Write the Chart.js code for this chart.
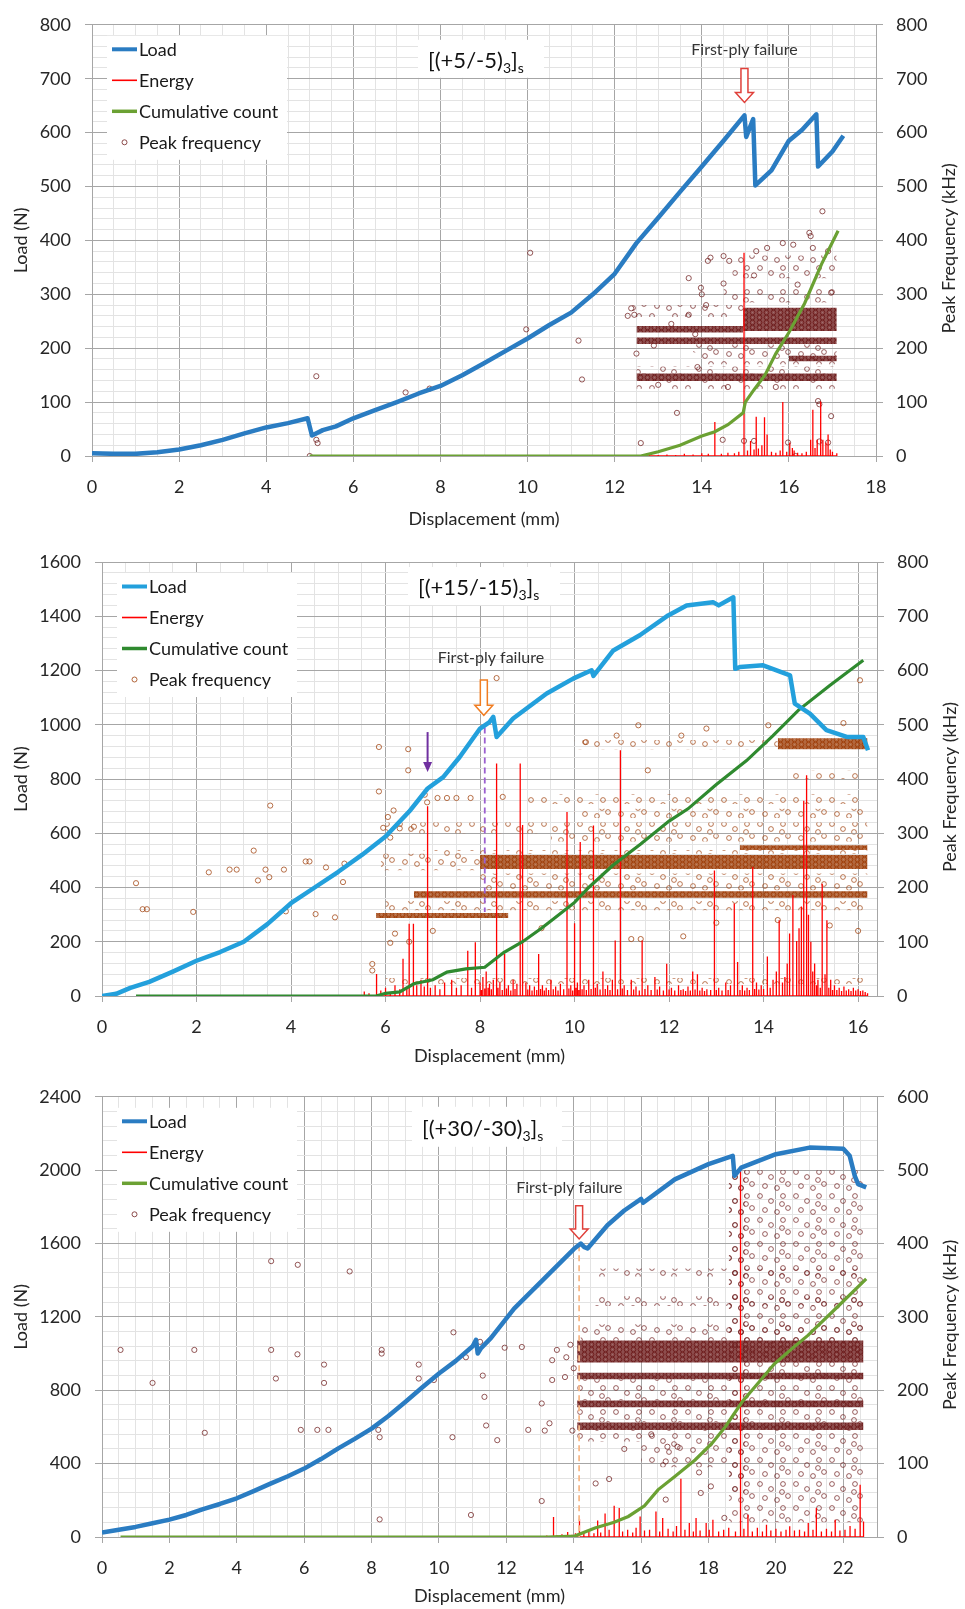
<!DOCTYPE html>
<html>
<head>
<meta charset="utf-8">
<script src="https://cdn.jsdelivr.net/npm/chart.js@4.4.1/dist/chart.umd.min.js"></script>
<style>
  body { margin: 0; background: #fff; width: 965px; height: 1609px; overflow: hidden; }
  canvas { position: absolute; left: 0; }
</style>
</head>
<body>
<canvas id="c1" width="965" height="532" style="top:0"></canvas>
<canvas id="c2" width="965" height="540" style="top:532px"></canvas>
<canvas id="c3" width="965" height="537" style="top:1072px"></canvas>
<script>
// ---- panel 1 : [(+5/-5)3]s ----
const title1 = ['[(+5/-5)', '3', ']', 's'];
const load1 = [[0,5],[0.5,4],[1,4],[1.5,7],[2,12],[2.5,20],[3,30],[3.5,42],[4,53],[4.5,61],[4.95,70],[5.05,38],[5.3,48],[5.6,55],[6,70],[6.5,85],[7,100],[7.5,116],[8,130],[8.5,150],[9,172],[9.5,195],[10,218],[10.5,243],[11,266],[11.5,300],[12,338],[12.5,395],[13,442],[13.5,490],[14,537],[14.5,585],[14.98,632],[15.02,592],[15.18,625],[15.23,502],[15.6,530],[16,585],[16.3,605],[16.63,634],[16.67,537],[17,565],[17.25,594]];
const cum1 = [[5.0,0],[12.6,0],[13.0,8],[13.5,20],[14.0,37],[14.3,45],[14.6,58],[14.95,80],[15.0,100],[15.2,123],[15.45,150],[15.7,190],[16.0,229],[16.36,283],[16.75,356],[17.13,418]];
const energy1 = [[12.6,2],[12.8,3],[13.0,2],[13.2,3],[13.4,2],[13.6,4],[13.8,3],[14.0,5],[14.15,4],[14.3,63],[14.45,4],[14.6,6],[14.75,5],[14.85,8],[14.97,377],[15.05,10],[15.12,28],[15.2,12],[15.25,73],[15.3,14],[15.38,20],[15.44,72],[15.5,40],[15.6,8],[15.7,6],[15.8,10],[15.86,100],[15.95,8],[16.02,25],[16.08,15],[16.12,10],[16.2,6],[16.3,5],[16.4,8],[16.5,30],[16.55,86],[16.6,15],[16.65,30],[16.73,101],[16.78,30],[16.85,25],[16.9,40],[16.95,12],[17.0,8],[17.1,5]];
const peakDense1 = [[12.5,14.95,229,241],[12.5,17.1,208,220],[12.5,17.1,139,153],[14.95,17.1,232,275],[16.0,17.1,176,186]];
const peakSparse1 = [[12.4,14.95,258,280],[14.0,17.1,170,192],[14.5,17.1,285,312],[14.7,17.1,330,372],[12.5,17.1,125,139],[12.5,17.1,153,166],[13.8,17.1,192,207]];
const peakPoints1 = [[5.0,0],[5.15,148],[5.15,30],[5.18,24],[7.2,118],[7.75,125],[9.97,235],[10.06,377],[11.17,214],[11.25,142],[12.38,274],[12.45,262],[12.6,24],[13.43,80],[13.98,312],[14.14,362],[14.2,368],[14.5,371],[14.63,362],[14.48,30],[14.97,28],[15.2,28],[15.98,25],[16.15,0],[16.67,102],[16.7,96],[16.97,74],[16.7,27],[16.9,25],[16.97,303],[15.86,395],[16.1,392],[16.77,454],[16.47,414],[16.5,408],[15.25,380],[15.5,386],[16.55,386],[16.9,380],[13.7,330],[14.0,300],[12.3,260],[12.9,205],[13.3,245],[13.7,262],[13.85,226],[14.1,280],[14.5,320],[15.2,335],[16.2,318],[12.5,190],[13.9,165],[13.0,132],[14.6,128],[15.7,128]];
const notes1 = [{text: 'First-ply failure', x: 14.98, y: 753}];
const arrows1 = [{x: 14.98, from: 719, to: 656, kind: 'hollow', color: '#e0403a'}];

// ---- panel 2 : [(+15/-15)3]s ----
const title2 = ['[(+15/-15)', '3', ']', 's'];
const load2 = [[0,0],[0.3,8],[0.6,30],[1,52],[1.5,90],[2,130],[2.5,162],[3,200],[3.5,265],[4,342],[4.5,400],[5,458],[5.5,520],[6,588],[6.5,680],[6.89,765],[7.22,807],[7.57,881],[8.0,986],[8.2,1010],[8.28,1029],[8.35,955],[8.7,1023],[9.41,1115],[9.97,1170],[10.36,1201],[10.4,1180],[10.82,1274],[11.38,1330],[11.98,1403],[12.37,1440],[12.93,1452],[13.05,1440],[13.36,1470],[13.4,1206],[13.5,1213],[13.99,1219],[14.56,1182],[14.66,1078],[14.98,1041],[15.33,980],[15.76,955],[16.11,955],[16.21,906]];
const cum2 = [[0.72,0],[5.8,0],[6.0,10],[6.3,15],[6.6,45],[7.0,60],[7.3,88],[7.7,100],[8.1,106],[8.5,160],[8.9,200],[9.3,250],[9.6,290],[10.0,345],[10.3,400],[10.8,480],[11.4,560],[12.0,645],[12.4,690],[13.0,780],[13.64,868],[14.2,960],[14.74,1054],[15.4,1145],[16.11,1238]];
const energy2 = [[5.55,17],[5.65,10],[5.81,81],[5.9,20],[6.0,30],[6.1,15],[6.2,40],[6.3,25],[6.37,137],[6.45,30],[6.5,266],[6.59,266],[6.66,40],[6.75,60],[6.82,35],[6.89,700],[6.95,30],[7.05,40],[7.15,25],[7.25,50],[7.4,60],[7.5,30],[7.6,40],[7.74,167],[7.82,30],[7.9,198],[8.0,50],[8.03,22],[8.06,70],[8.1,28],[8.13,90],[8.17,30],[8.2,45],[8.24,25],[8.28,60],[8.35,857],[8.38,30],[8.42,50],[8.47,22],[8.52,155],[8.56,28],[8.6,40],[8.65,20],[8.7,60],[8.74,26],[8.78,45],[8.85,857],[8.9,630],[8.97,50],[9.01,24],[9.05,40],[9.1,20],[9.15,35],[9.2,22],[9.24,155],[9.28,26],[9.32,40],[9.36,20],[9.4,30],[9.45,22],[9.5,60],[9.55,25],[9.6,35],[9.65,20],[9.7,45],[9.77,25],[9.84,678],[9.88,28],[9.92,40],[9.96,20],[10.0,268],[10.03,30],[10.06,50],[10.09,22],[10.12,568],[10.16,25],[10.2,40],[10.25,22],[10.3,60],[10.35,26],[10.4,629],[10.44,30],[10.48,45],[10.54,24],[10.6,90],[10.65,26],[10.7,40],[10.75,22],[10.8,60],[10.86,205],[10.91,25],[10.97,906],[11.01,28],[11.05,40],[11.12,22],[11.2,60],[11.25,24],[11.3,35],[11.37,20],[11.43,205],[11.49,26],[11.55,40],[11.62,22],[11.7,70],[11.75,24],[11.8,35],[11.88,20],[11.95,119],[12.0,24],[12.05,30],[12.12,20],[12.2,40],[12.25,22],[12.3,25],[12.35,18],[12.4,35],[12.45,20],[12.5,90],[12.55,24],[12.6,80],[12.65,20],[12.7,30],[12.75,18],[12.8,25],[12.88,22],[12.96,463],[13.0,22],[13.05,30],[13.12,20],[13.2,50],[13.25,22],[13.3,40],[13.38,341],[13.45,125],[13.5,22],[13.55,40],[13.6,20],[13.65,30],[13.7,22],[13.77,476],[13.81,26],[13.85,50],[13.9,24],[13.95,40],[14.0,26],[14.08,146],[14.14,30],[14.2,60],[14.27,90],[14.33,279],[14.4,50],[14.45,70],[14.5,120],[14.55,230],[14.62,372],[14.7,203],[14.75,250],[14.8,330],[14.85,720],[14.91,814],[14.95,300],[15.0,200],[15.04,90],[15.08,120],[15.12,40],[15.15,60],[15.2,30],[15.24,414],[15.3,80],[15.34,279],[15.38,30],[15.42,60],[15.46,22],[15.5,40],[15.55,22],[15.6,30],[15.65,18],[15.7,35],[15.75,20],[15.8,25],[15.85,18],[15.9,30],[15.95,20],[16.0,25],[16.05,18],[16.1,20],[16.15,15],[16.2,10]];
const peakDense2 = [[8.0,16.2,234,260],[6.6,16.2,181,193],[14.3,16.2,455,475],[5.8,8.6,144,153],[13.5,16.2,269,278]];
const peakSparse2 = [[5.9,8.0,232,262],[8.0,16.2,207,226],[8.0,16.2,195,207],[6.0,16.2,300,320],[9.5,16.2,285,298],[9.0,16.1,354,372],[10.0,14.3,455,472],[14.5,16.1,400,415],[6.0,16.2,22,33],[6.0,16.2,158,175],[10.0,16.2,328,345],[6.8,16.2,262,269]];
const peakPoints2 = [[0.72,208],[0.86,160],[0.95,160],[1.93,155],[2.26,228],[2.7,233],[2.85,233],[3.21,268],[3.3,213],[3.46,233],[3.54,219],[3.56,351],[3.85,233],[3.89,156],[4.31,248],[4.39,248],[4.52,151],[4.74,237],[4.93,145],[5.1,210],[5.13,244],[5.86,459],[6.48,455],[6.48,416],[5.86,377],[5.72,59],[5.72,47],[6.83,371],[6.88,357],[7.1,365],[7.3,365],[7.5,365],[7.8,365],[8.48,367],[8.35,586],[10.24,468],[10.89,480],[11.35,499],[12.79,493],[11.55,416],[16.04,582],[15.69,503],[14.1,499],[12.26,480],[6.1,98],[6.2,115],[6.5,100],[7.0,120],[6.3,309],[6.6,312],[6.17,342],[9.3,125],[11.2,105],[11.4,105],[12.3,110],[13.0,135],[14.3,140],[15.4,130],[16.0,120],[6.1,292],[5.95,310],[6.05,330]];
const notes2 = [{text: 'First-ply failure', x: 8.23, y: 1245}];
const arrows2 = [
  {x: 8.08, from: 1165, to: 1035, kind: 'hollow', color: '#f07d22'},
  {x: 6.89, from: 973, to: 826, kind: 'solid', color: '#7030a0'}
];
const guide2 = [[8.1, 990], [8.1, 310]];

// ---- panel 3 : [(+30/-30)3]s ----
const title3 = ['[(+30/-30)', '3', ']', 's'];
const load3 = [[0,25],[0.5,40],[1,55],[1.5,75],[2,95],[2.5,120],[3,152],[3.5,180],[4,211],[4.5,250],[5,291],[5.5,330],[6,373],[6.5,425],[7,482],[7.5,535],[8,591],[8.5,660],[9,736],[9.5,815],[10,891],[10.5,960],[11.0,1040],[11.1,1075],[11.15,1000],[11.25,1030],[11.54,1084],[12.23,1245],[13.22,1426],[14.01,1571],[14.21,1600],[14.3,1582],[14.41,1573],[15.0,1700],[15.5,1780],[16.0,1843],[16.06,1822],[17.0,1950],[18.0,2033],[18.72,2078],[18.77,1969],[18.97,2014],[20.0,2087],[21.0,2123],[22.0,2117],[22.19,2078],[22.34,1969],[22.44,1924],[22.68,1906]];
const cum3 = [[0.55,0],[13.2,0],[14.03,5],[14.63,49],[15.2,80],[15.62,112],[16.1,170],[16.5,257],[17.0,330],[17.6,420],[18.1,510],[18.5,601],[19.0,737],[19.5,845],[19.96,945],[20.5,1030],[20.95,1099],[21.8,1250],[22.68,1407]];
const energy3 = [[13.2,8],[13.4,109],[13.5,10],[13.65,15],[13.82,27],[13.95,12],[14.05,20],[14.17,100],[14.3,25],[14.45,30],[14.6,20],[14.71,90],[14.8,25],[14.93,128],[15.05,40],[15.2,170],[15.35,158],[15.45,30],[15.6,40],[15.75,25],[15.85,50],[15.97,112],[16.1,35],[16.25,40],[16.44,139],[16.55,30],[16.64,103],[16.8,45],[16.95,30],[17.05,60],[17.18,318],[17.3,40],[17.43,76],[17.55,30],[17.63,103],[17.75,35],[17.93,76],[18.02,40],[18.13,94],[18.3,30],[18.45,40],[18.6,50],[18.8,30],[18.95,1996],[19.05,45],[19.17,121],[19.3,30],[19.45,50],[19.6,30],[19.72,67],[19.85,35],[20.0,45],[20.15,30],[20.3,40],[20.41,58],[20.55,35],[20.7,40],[20.85,30],[20.96,76],[21.1,40],[21.2,158],[21.35,30],[21.5,45],[21.65,30],[21.76,94],[21.9,35],[22.05,40],[22.2,60],[22.35,45],[22.5,285],[22.6,85]];
const peakDense3 = [[14.1,22.6,238,268],[14.1,22.6,215,224],[14.1,22.6,177,186],[14.1,22.6,146,156]];
const peakSparse3 = [[18.6,22.6,20,500],[18.6,19.1,60,500],[14.1,18.6,186,215],[14.1,18.6,156,177],[14.2,22.6,268,290],[14.6,22.6,315,328],[14.6,22.6,355,366],[14.1,18.6,130,146],[16.0,18.6,95,130]];
const peakPoints3 = [[0.55,255],[1.5,210],[2.74,255],[3.05,142],[5.02,255],[5.02,376],[5.16,216],[5.8,249],[5.81,371],[5.9,146],[6.39,146],[6.59,235],[6.59,210],[6.72,146],[7.35,362],[8.2,146],[8.24,136],[8.24,24],[8.3,255],[8.3,250],[9.4,235],[9.4,216],[9.85,214],[10.4,136],[10.43,279],[10.8,245],[10.95,30],[11.22,266],[11.3,220],[11.35,191],[11.4,152],[11.73,132],[11.95,258],[12.46,259],[12.65,146],[13.05,182],[13.05,49],[13.14,145],[13.28,155],[13.36,214],[13.36,241],[13.5,255],[13.74,218],[13.78,245],[13.96,145],[13.9,262],[14.0,230],[14.65,73],[15.05,79],[16.73,103],[16.73,51],[16.78,123],[17.08,123],[17.72,88],[17.77,60],[18.47,26],[18.07,69],[15.5,120],[16.3,140]];
const notes3 = [{text: 'First-ply failure', x: 13.87, y: 1906}];
const arrows3 = [{x: 14.16, from: 1806, to: 1625, kind: 'hollow', color: '#e0403a'}];
const guide3 = [[14.16, 1590], [14.16, 0]];

const legendNames = ['Load', 'Energy', 'Cumulative count', 'Peak frequency'];

// ---- look ----
const FONT = 'Lato, "Open Sans", sans-serif';
const TXT = '#262626';
const GRID_MAJOR = '#a6a6a6';
const GRID_MINOR = '#e3e3e3';
const W = 965;

const panels = [
  { id: 'c1', height: 532, area: {top: 15, bottom: 456, left: 92, right: 876}, xAxisH: 74,
    xMax: 18, yMax: 800, yMajor: 100, yMinor: 20, yRMax: 800,
    title: title1, titleAt: [336, 35], titleBox: [326, 15, 126, 38],
    load: load1, cum: cum1, energy: energy1, dense: peakDense1, sparse: peakSparse1, points: peakPoints1,
    notes: notes1, arrows: arrows1, guide: null, guideColor: null,
    loadColor: '#2a7cc2', cumColor: '#6ba133', peakRgb: '112,32,32' },
  { id: 'c2', height: 540, area: {top: 30, bottom: 464, left: 102, right: 877}, xAxisH: 71,
    xMax: 16.4, yMax: 1600, yMajor: 200, yMinor: 40, yRMax: 800,
    title: title2, titleAt: [316, 25], titleBox: [306, 5, 152, 38],
    load: load2, cum: cum2, energy: energy2, dense: peakDense2, sparse: peakSparse2, points: peakPoints2,
    notes: notes2, arrows: arrows2, guide: guide2, guideColor: '#9b5fd0',
    loadColor: '#23a0dc', cumColor: '#2f8a2f', peakRgb: '160,66,14' },
  { id: 'c3', height: 537, area: {top: 24, bottom: 465, left: 102, right: 877}, xAxisH: 70,
    xMax: 23, yMax: 2400, yMajor: 400, yMinor: 80, yRMax: 600,
    title: title3, titleAt: [320, 31], titleBox: [310, 10, 150, 40],
    load: load3, cum: cum3, energy: energy3, dense: peakDense3, sparse: peakSparse3, points: peakPoints3,
    notes: notes3, arrows: arrows3, guide: guide3, guideColor: '#f7b98a',
    loadColor: '#2a7cc2', cumColor: '#6ba133', peakRgb: '112,32,32' }
];

const onStep = (v, step) => Math.abs(v / step - Math.round(v / step)) < 1e-6;
const xy = (arr) => arr.map(([x, y]) => ({x, y}));

// vertical spikes for the energy trace
function spikes(list) {
  const out = [];
  list.forEach(([x, h]) => { out.push({x, y: 0}, {x, y: h}, {x, y: 0}); });
  return out;
}

// texture of stacked hollow markers, used to fill the rows of peak frequency hits
function ringPattern(ctx, rgb, dense) {
  const c = document.createElement('canvas');
  const w = dense ? 7 : 36, h = dense ? 5 : 24;
  c.width = w; c.height = h;
  const g = c.getContext('2d');
  if (dense) { g.fillStyle = `rgba(${rgb},0.8)`; g.fillRect(0, 0, w, h); }
  g.strokeStyle = dense ? `rgba(${rgb},1)` : `rgba(${rgb},0.7)`;
  g.lineWidth = 1;
  const rings = dense
    ? [[3.5, 2.5]]
    : [[4, 4], [15, 9], [27, 4], [32, 16], [9, 18], [21, 20], [26, 12]];
  rings.forEach(([x, y]) => { g.beginPath(); g.arc(x, y, 2.4, 0, Math.PI * 2); g.stroke(); });
  if (dense) { g.fillStyle = 'rgba(255,255,255,0.18)'; g.fillRect(3, 2, 1, 1); }
  return ctx.createPattern(c, 'repeat');
}

function bandSets(bands, fillStyle, order) {
  return bands.map(b => ({
    type: 'line', yAxisID: 'yR', order,
    data: [{x: b[0], y: b[3]}, {x: b[1], y: b[3]}],
    fill: {value: b[2]}, backgroundColor: fillStyle,
    borderColor: 'transparent', borderWidth: 0, pointRadius: 0
  }));
}

function hollowArrow(ctx, x, y0, y1, color) {
  const sw = 3.5, hw = 9, hl = 10;
  ctx.beginPath();
  ctx.moveTo(x - sw, y0); ctx.lineTo(x + sw, y0); ctx.lineTo(x + sw, y1 - hl);
  ctx.lineTo(x + hw, y1 - hl); ctx.lineTo(x, y1); ctx.lineTo(x - hw, y1 - hl);
  ctx.lineTo(x - sw, y1 - hl); ctx.closePath();
  ctx.fillStyle = '#fff'; ctx.fill();
  ctx.strokeStyle = color; ctx.lineWidth = 1.5; ctx.stroke();
}

function solidArrow(ctx, x, y0, y1, color) {
  ctx.strokeStyle = color; ctx.lineWidth = 2;
  ctx.beginPath(); ctx.moveTo(x, y0); ctx.lineTo(x, y1 - 8); ctx.stroke();
  ctx.fillStyle = color;
  ctx.beginPath(); ctx.moveTo(x - 4.5, y1 - 10); ctx.lineTo(x + 4.5, y1 - 10); ctx.lineTo(x, y1); ctx.closePath(); ctx.fill();
}

// legend box, specimen title, notes and arrows drawn over the plot
function makeOverlay(p) {
  return {
    id: 'overlay',
    afterDatasetsDraw(chart) {
      const {ctx, chartArea: a, scales} = chart;
      const sx = scales.x, sy = scales.y;
      ctx.save();
      ctx.fillStyle = '#fff';
      ctx.fillRect(a.left + 15, a.top + 11, 180, 124);
      ctx.fillRect(a.left + p.titleBox[0], a.top + p.titleBox[1], p.titleBox[2], p.titleBox[3]);

      // legend
      const styles = [
        {color: p.loadColor, w: 4},
        {color: '#ff0000', w: 1.6},
        {color: p.cumColor, w: 3.5},
        null
      ];
      ctx.font = '18px ' + FONT;
      ctx.textBaseline = 'middle';
      ctx.textAlign = 'left';
      legendNames.forEach((name, i) => {
        const y = a.top + 24.5 + i * 31;
        const s = styles[i];
        if (s) {
          ctx.strokeStyle = s.color; ctx.lineWidth = s.w;
          ctx.beginPath(); ctx.moveTo(a.left + 20, y); ctx.lineTo(a.left + 45, y); ctx.stroke();
        } else {
          ctx.strokeStyle = `rgba(${p.peakRgb},0.8)`; ctx.lineWidth = 1;
          ctx.beginPath(); ctx.arc(a.left + 32.5, y, 2.5, 0, Math.PI * 2); ctx.stroke();
        }
        ctx.fillStyle = '#1a1a1a';
        ctx.fillText(name, a.left + 47, y + 1);
      });

      // specimen title with subscripts
      let tx = a.left + p.titleAt[0];
      const ty = a.top + p.titleAt[1];
      ctx.textBaseline = 'alphabetic';
      ctx.fillStyle = '#111';
      p.title.forEach((t, i) => {
        const sub = i % 2 === 1;
        ctx.font = (sub ? '14px ' : '22px ') + FONT;
        ctx.fillText(t, tx, ty + (sub ? 13 : 8));
        tx += ctx.measureText(t).width;
      });

      // notes and arrows
      ctx.font = '16px ' + FONT;
      ctx.textAlign = 'center';
      ctx.textBaseline = 'middle';
      ctx.fillStyle = '#333';
      p.notes.forEach(n => ctx.fillText(n.text, sx.getPixelForValue(n.x), sy.getPixelForValue(n.y)));
      p.arrows.forEach(ar => {
        const x = sx.getPixelForValue(ar.x);
        const y0 = sy.getPixelForValue(ar.from), y1 = sy.getPixelForValue(ar.to);
        if (ar.kind === 'hollow') hollowArrow(ctx, x, y0, y1, ar.color);
        else solidArrow(ctx, x, y0, y1, ar.color);
      });

      // right axis title, reading upward
      ctx.translate(a.right + 73, (a.top + a.bottom) / 2 + 8);
      ctx.rotate(-Math.PI / 2);
      ctx.font = '18px ' + FONT;
      ctx.fillStyle = TXT;
      ctx.fillText('Peak Frequency (kHz)', 0, 0);
      ctx.restore();
    }
  };
}

panels.forEach(p => {
  const cv = document.getElementById(p.id);
  const ctx = cv.getContext('2d');
  const densePat = ringPattern(ctx, p.peakRgb, true);
  const sparsePat = ringPattern(ctx, p.peakRgb, false);

  const datasets = [
    {type: 'line', label: 'Load', data: xy(p.load), yAxisID: 'y', order: 0,
     borderColor: p.loadColor, borderWidth: 4.5, pointRadius: 0, borderJoinStyle: 'round', fill: false},
    {type: 'line', label: 'Cumulative count', data: xy(p.cum), yAxisID: 'y', order: 1,
     borderColor: p.cumColor, borderWidth: 3.2, pointRadius: 0, fill: false},
    {type: 'line', label: 'Energy', data: spikes(p.energy), yAxisID: 'y', order: 2,
     borderColor: '#ff0000', borderWidth: 1.3, pointRadius: 0, fill: false},
    {type: 'scatter', label: 'Peak frequency', data: xy(p.points), yAxisID: 'yR', order: 3,
     pointRadius: 2.6, pointBorderWidth: 1, pointBackgroundColor: 'transparent',
     pointBorderColor: `rgba(${p.peakRgb},0.75)`},
    ...bandSets(p.dense, densePat, 4),
    ...bandSets(p.sparse, sparsePat, 5)
  ];
  if (p.guide) {
    datasets.push({type: 'line', data: xy(p.guide), yAxisID: 'y', order: 1,
      borderColor: p.guideColor, borderWidth: 1.8, borderDash: [6, 4], pointRadius: 0, fill: false});
  }

  const gridCol = (step) => (c) => (c.tick && onStep(c.tick.value, step)) ? GRID_MAJOR : GRID_MINOR;
  const tickCol = (step) => (c) => (c.tick && onStep(c.tick.value, step)) ? GRID_MAJOR : 'rgba(0,0,0,0)';
  const tickFont = {family: FONT, size: 18};
  const titleFont = {family: FONT, size: 18};

  new Chart(cv, {
    type: 'scatter',
    data: {datasets},
    options: {
      responsive: false,
      animation: false,
      events: [],
      devicePixelRatio: 1,
      layout: {padding: {top: p.area.top, left: 0, right: 0, bottom: p.height - p.area.bottom - p.xAxisH}},
      plugins: {legend: {display: false}, tooltip: {enabled: false}},
      scales: {
        x: {
          type: 'linear', position: 'bottom', min: 0, max: p.xMax,
          afterFit: s => { s.height = p.xAxisH; },
          ticks: {stepSize: 0.5, autoSkip: false, includeBounds: false, maxRotation: 0, padding: 14,
                  color: TXT, font: tickFont, callback: v => onStep(v, 2) ? v : ''},
          grid: {color: gridCol(2), tickColor: tickCol(2), tickLength: 6},
          border: {color: GRID_MAJOR},
          title: {display: true, text: 'Displacement (mm)', color: TXT, font: titleFont, padding: {top: 0, bottom: 0}}
        },
        y: {
          type: 'linear', position: 'left', min: 0, max: p.yMax,
          afterFit: s => { s.width = p.area.left; },
          ticks: {stepSize: p.yMinor, autoSkip: false, includeBounds: false, padding: 14,
                  color: TXT, font: tickFont, callback: v => onStep(v, p.yMajor) ? v : ''},
          grid: {color: gridCol(p.yMajor), tickColor: tickCol(p.yMajor), tickLength: 7},
          border: {color: GRID_MAJOR},
          title: {display: true, text: 'Load (N)', color: TXT, font: titleFont, padding: {top: 10, bottom: 0}}
        },
        yR: {
          type: 'linear', position: 'right', min: 0, max: p.yRMax,
          afterFit: s => { s.width = W - p.area.right; },
          ticks: {stepSize: 100, padding: 13, color: TXT, font: tickFont},
          grid: {drawOnChartArea: false, color: GRID_MAJOR, tickLength: 7},
          border: {color: GRID_MAJOR}
        }
      }
    },
    plugins: [makeOverlay(p)]
  });
});
</script>
</body>
</html>
